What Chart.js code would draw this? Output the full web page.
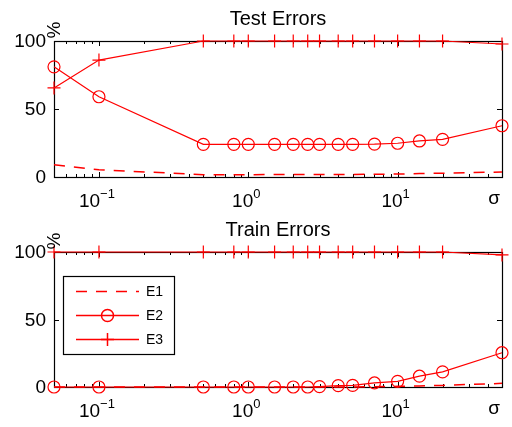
<!DOCTYPE html>
<html>
<head>
<meta charset="utf-8">
<script src="https://cdn.jsdelivr.net/npm/chart.js@4/dist/chart.umd.min.js"></script>
<style>
html,body{margin:0;padding:0;background:#fff;}
#wrap{position:relative;width:512px;height:427px;overflow:hidden;}
canvas{position:absolute;left:0;}
#c1{top:0;}
#c2{top:210px;}
</style>
</head>
<body>
<div id="wrap">
<canvas id="c1" width="512" height="210"></canvas>
<canvas id="c2" width="512" height="217"></canvas>
</div>
<script>
// ---- data ----
const sigma   = [0.05, 0.1, 0.5, 0.8, 1, 1.5, 2, 2.5, 3, 4, 5, 7, 10, 14, 20, 50];
const testE1  = [9, 5.3, 1.7, 1.7, 1.7, 1.8, 1.8, 1.8, 1.8, 1.8, 1.9, 2.0, 2.2, 2.5, 2.8, 3.7];
const testE2  = [81, 59, 24, 24, 24, 24, 24, 24, 24, 24, 24, 24.2, 24.8, 26.5, 27.7, 37.7];
const testE3  = [65.5, 86, 100, 100, 100, 100, 100, 100, 100, 100, 100, 100, 100, 100, 100, 97.8];
const trainE1 = [0, 0, 0, 0, 0, 0, 0, 0, 0, 0, 0, 0.2, 0.5, 0.8, 1.2, 2.7];
const trainE2 = [0, 0, 0, 0, 0, 0, 0, 0, 0.3, 1.0, 1.2, 3.0, 4.2, 8.0, 11.2, 25.4];
const trainE3 = [100, 100, 100, 100, 100, 100, 100, 100, 100, 100, 100, 100, 100, 100, 100, 97.8];
const seriesNames = ['E1', 'E2', 'E3'];
const xMajorTicks = [0.1, 1, 10];
const xTickExponents = ['\u22121', '0', '1'];
const xMinorTicks = [0.06, 0.07, 0.08, 0.09, 0.2, 0.3, 0.4, 0.5, 0.6, 0.7, 0.8, 0.9, 2, 3, 4, 5, 6, 7, 8, 9, 20, 30, 40];
const yTicks = [0, 50, 100];
const yTickLabels = ['0', '50', '100'];
const titles = ['Test Errors', 'Train Errors'];
const xLabel = '\u03c3';
const yLabel = '%';

const RED = '#ff0000';
const LW = 1.5;
const FONT = '"Liberation Sans", Arial, Helvetica, sans-serif';

function pts(ys) { return sigma.map((x, i) => ({ x: x, y: ys[i] })); }

function makeDatasets(e1, e2, e3) {
  return [
    { label: seriesNames[0], data: pts(e1), borderColor: RED, borderWidth: LW, borderDash: [11, 9], pointRadius: 0, fill: false, clip: false },
    { label: seriesNames[1], data: pts(e2), borderColor: RED, borderWidth: 1.2, pointStyle: 'circle', pointRadius: 6, pointBorderWidth: 1.2, pointBorderColor: RED, pointBackgroundColor: 'rgba(0,0,0,0)', fill: false, clip: false },
    { label: seriesNames[2], data: pts(e3), borderColor: RED, borderWidth: 1.2, pointStyle: 'cross', pointRadius: 6.5, pointBorderWidth: 1.2, pointBorderColor: RED, fill: false, clip: false }
  ];
}

function framePlugin(title, showLegend) {
  return {
    id: 'frame',
    beforeDatasetsDraw(chart) {
      const ctx = chart.ctx, a = chart.chartArea;
      const xs = chart.scales.x, ys = chart.scales.y;
      ctx.save();
      ctx.strokeStyle = '#000';
      ctx.lineWidth = 1.2;
      ctx.strokeRect(a.left + 0.5, a.top + 0.5, a.right - a.left, a.bottom - a.top);
      ctx.lineWidth = 1;
      const allX = xMajorTicks.map(v => [v, 5]).concat(xMinorTicks.map(v => [v, 3]));
      allX.forEach(([v, len]) => {
        const px = Math.round(xs.getPixelForValue(v)) + 0.5;
        ctx.beginPath();
        ctx.moveTo(px, a.bottom); ctx.lineTo(px, a.bottom - len);
        ctx.moveTo(px, a.top); ctx.lineTo(px, a.top + len);
        ctx.stroke();
      });
      yTicks.forEach(v => {
        const py = Math.round(ys.getPixelForValue(v)) + 0.5;
        ctx.beginPath();
        ctx.moveTo(a.left, py); ctx.lineTo(a.left + 5, py);
        ctx.moveTo(a.right, py); ctx.lineTo(a.right - 5, py);
        ctx.stroke();
      });
      ctx.restore();
    },
    afterDraw(chart) {
      const ctx = chart.ctx, a = chart.chartArea;
      const xs = chart.scales.x, ys = chart.scales.y;
      ctx.save();
      ctx.fillStyle = '#000';
      ctx.font = '20px ' + FONT;
      ctx.textAlign = 'center';
      ctx.textBaseline = 'alphabetic';
      ctx.fillText(title, (a.left + a.right) / 2, a.top - 16.5);
      ctx.font = '19px ' + FONT;
      ctx.textAlign = 'right';
      ctx.textBaseline = 'middle';
      yTicks.forEach((v, i) => {
        ctx.fillText(yTickLabels[i], a.left - 8, ys.getPixelForValue(v) + 1);
      });
      ctx.textBaseline = 'alphabetic';
      xMajorTicks.forEach((v, i) => {
        const px = xs.getPixelForValue(v);
        ctx.font = '19px ' + FONT;
        const wb = ctx.measureText('10').width;
        ctx.font = '13px ' + FONT;
        const we = ctx.measureText(xTickExponents[i]).width;
        const x0 = px - 2 - (wb + we) / 2;
        ctx.textAlign = 'left';
        ctx.font = '19px ' + FONT;
        ctx.fillText('10', x0, a.bottom + 30);
        ctx.font = '13px ' + FONT;
        ctx.fillText(xTickExponents[i], x0 + wb, a.bottom + 21);
      });
      ctx.font = '19px ' + FONT;
      ctx.textAlign = 'center';
      ctx.fillText(xLabel, a.right - 8, a.bottom + 27);
      ctx.save();
      ctx.translate(a.left + 1, a.top - 11);
      ctx.rotate(-Math.PI / 2);
      ctx.textAlign = 'center';
      ctx.textBaseline = 'middle';
      ctx.font = '19px ' + FONT;
      ctx.fillText(yLabel, 0, 0);
      ctx.restore();
      if (showLegend) {
        const bx = 63.5, by = 66.5, bw = 111, bh = 78;
        ctx.fillStyle = '#fff';
        ctx.fillRect(bx, by, bw, bh);
        ctx.strokeStyle = '#000';
        ctx.lineWidth = 1.2;
        ctx.strokeRect(bx, by, bw, bh);
        const rows = [81.5, 105.5, 129.5];
        const lx0 = 76, lx1 = 139, mx = 107.5;
        rows.forEach((ry, i) => {
          ctx.strokeStyle = RED;
          ctx.lineWidth = LW;
          ctx.beginPath();
          ctx.setLineDash(i === 0 ? [11, 9] : []);
          ctx.moveTo(lx0, ry); ctx.lineTo(lx1, ry);
          ctx.stroke();
          ctx.setLineDash([]);
          if (i === 1) {
            ctx.beginPath();
            ctx.arc(mx, ry, 6, 0, Math.PI * 2);
            ctx.stroke();
          } else if (i === 2) {
            ctx.beginPath();
            ctx.moveTo(mx, ry - 6.5); ctx.lineTo(mx, ry + 6.5);
            ctx.moveTo(mx - 6.5, ry); ctx.lineTo(mx + 6.5, ry);
            ctx.stroke();
          }
          ctx.fillStyle = '#000';
          ctx.font = '14px ' + FONT;
          ctx.textAlign = 'left';
          ctx.textBaseline = 'middle';
          ctx.fillText(seriesNames[i], 146, ry + 1);
        });
      }
      ctx.restore();
    }
  };
}

function makeChart(id, datasets, title, showLegend, pad) {
  return new Chart(document.getElementById(id), {
    type: 'line',
    data: { datasets: datasets },
    options: {
      responsive: false,
      animation: false,
      devicePixelRatio: 1,
      layout: { padding: pad },
      plugins: { legend: { display: false }, title: { display: false }, tooltip: { enabled: false } },
      scales: {
        x: { type: 'logarithmic', min: 0.05, max: 50, display: false },
        y: { type: 'linear', min: 0, max: 100, display: false }
      }
    },
    plugins: [framePlugin(title, showLegend)]
  });
}

makeChart('c1', makeDatasets(testE1, testE2, testE3), titles[0], false, { left: 54, right: 10, top: 41, bottom: 33 });
makeChart('c2', makeDatasets(trainE1, trainE2, trainE3), titles[1], true, { left: 54, right: 10, top: 42, bottom: 40 });
</script>
</body>
</html>
